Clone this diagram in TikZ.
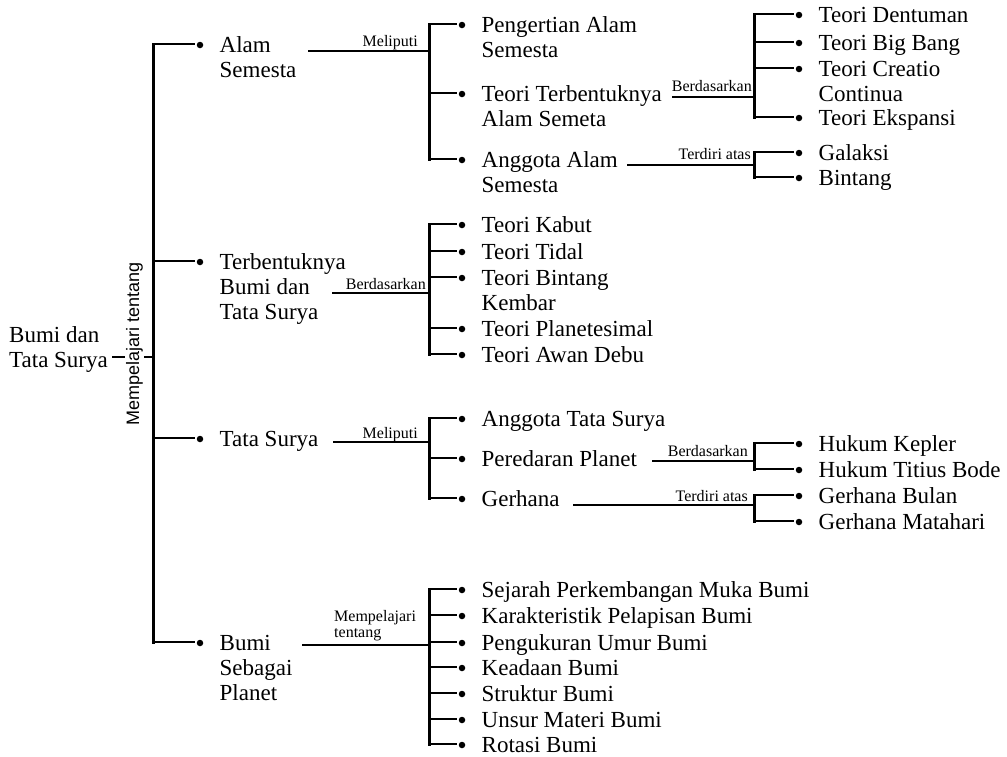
\documentclass[tikz,border=0pt]{standalone}
\usepackage{fontspec}
\setmainfont{Liberation Serif}
\newfontfamily\rotsans{Liberation Sans}
\newcommand\itemfont{\fontsize{23}{25}\selectfont}
\newcommand\labfont{\fontsize{16}{16}\selectfont}
\newcommand\mytl[1]{\begin{tabular}[t]{@{}l@{}}#1\end{tabular}}
\tikzset{
  spine/.style={line width=3pt, line cap=rect},
  conn/.style={line width=2.8pt},
  dot/.style={circle, fill=black, inner sep=0pt, minimum size=6.5pt, outer sep=2pt},
  item/.style={anchor=base west, inner sep=0pt, font=\itemfont},
  lab/.style={anchor=base east, inner sep=0pt, font=\labfont},
  rotlab/.style={rotate=90, anchor=base, fill=white, inner sep=1pt, font=\rotsans\fontsize{18}{20}\selectfont}
}
% name, spine x, bullet x, branch y, text
\newcommand\leaf[5]{%
  \coordinate (#1j) at (#2,#4);
  \node[dot] (#1b) at (#3,#4+1) {};
  \node[item] (#1t) at (#3+19.5,#4+8.5) {\mytl{#5}};
  \draw[conn] (#1j) -- (#1j -| #1b.west);
}
\begin{document}
\begin{tikzpicture}[x=1pt,y=-1pt]
\useasboundingbox (0,0) rectangle (1007,756);

% root
\node[item] (root) at (9,342) {\mytl{Bumi dan\\Tata Surya}};
\coordinate (rootend) at (112,357);
\coordinate (s0) at (153,357);
\draw[conn] (rootend) -- (s0);
\node[rotlab] (rl) at (139,343.5) {Mempelajari tentang};

% level 1
\leaf{A}{153}{200}{44}{Alam\\Semesta}
\leaf{B}{153}{200}{261}{Terbentuknya\\Bumi dan\\Tata Surya}
\leaf{C}{153}{200}{438}{Tata Surya}
\leaf{D}{153}{200}{642}{Bumi\\Sebagai\\Planet}
\draw[spine] (Aj) -- (Dj);

% Alam Semesta
\coordinate (Ac) at (308,51); \coordinate (Am) at (429,51);
\draw[conn] (Ac) -- (Am);
\node[lab] (Al) at (418,46) {Meliputi};
\leaf{Aa}{429}{462}{24}{Pengertian Alam\\Semesta}
\leaf{Ab}{429}{462}{93}{Teori Terbentuknya\\Alam Semeta}
\leaf{Ac}{429}{462}{159}{Anggota Alam\\Semesta}
\draw[spine] (Aaj) -- (Acj);

\coordinate (Abc) at (672,97); \coordinate (Abm) at (754,97);
\draw[conn] (Abc) -- (Abm);
\node[lab] (Abl) at (752,91) {Berdasarkan};
\leaf{Aba}{754}{799}{14}{Teori Dentuman}
\leaf{Abb}{754}{799}{42}{Teori Big Bang}
\leaf{Abc}{754}{799}{68}{Teori Creatio\\Continua}
\leaf{Abd}{754}{799}{117}{Teori Ekspansi}
\draw[spine] (Abaj) -- (Abdj);

\coordinate (Acc) at (627,165); \coordinate (Acm) at (754,165);
\draw[conn] (Acc) -- (Acm);
\node[lab] (Acl) at (751,159) {Terdiri atas};
\leaf{Aca}{754}{799}{152}{Galaksi}
\leaf{Acb}{754}{799}{177}{Bintang}
\draw[spine] (Acaj) -- (Acbj);

% Terbentuknya
\coordinate (Bc) at (332,293); \coordinate (Bm) at (429,293);
\draw[conn] (Bc) -- (Bm);
\node[lab] (Bl) at (426,289) {Berdasarkan};
\leaf{Ba}{429}{462}{224}{Teori Kabut}
\leaf{Bb}{429}{462}{251}{Teori Tidal}
\leaf{Bc}{429}{462}{277}{Teori Bintang\\Kembar}
\leaf{Bd}{429}{462}{328}{Teori Planetesimal}
\leaf{Be}{429}{462}{354}{Teori Awan Debu}
\draw[spine] (Baj) -- (Bej);

% Tata Surya
\coordinate (Cc) at (333,442); \coordinate (Cm) at (429,442);
\draw[conn] (Cc) -- (Cm);
\node[lab] (Cl) at (418,438) {Meliputi};
\leaf{Ca}{429}{462}{418}{Anggota Tata Surya}
\leaf{Cb}{429}{462}{458}{Peredaran Planet}
\leaf{Cc}{429}{462}{498}{Gerhana}
\draw[spine] (Caj) -- (Ccj);

\coordinate (Cbc) at (652,461); \coordinate (Cbm) at (754,461);
\draw[conn] (Cbc) -- (Cbm);
\node[lab] (Cbl) at (748,456) {Berdasarkan};
\leaf{Cba}{754}{799}{443}{Hukum Kepler}
\leaf{Cbb}{754}{799}{469}{Hukum Titius Bode}
\draw[spine] (Cbaj) -- (Cbbj);

\coordinate (Ccc) at (573,505); \coordinate (Ccm) at (754,505);
\draw[conn] (Ccc) -- (Ccm);
\node[lab] (Ccl) at (748,501) {Terdiri atas};
\leaf{Cca}{754}{799}{495}{Gerhana Bulan}
\leaf{Ccb}{754}{799}{521}{Gerhana Matahari}
\draw[spine] (Ccaj) -- (Ccbj);

% Bumi Sebagai Planet
\coordinate (Dc) at (302,645); \coordinate (Dm) at (429,645);
\draw[conn] (Dc) -- (Dm);
\node[lab, anchor=base west] (Dl) at (334,621) {\begin{tabular}[t]{@{}l@{}}Mempelajari\\tentang\end{tabular}};
\leaf{Da}{429}{462}{589}{Sejarah Perkembangan Muka Bumi}
\leaf{Db}{429}{462}{615}{Karakteristik Pelapisan Bumi}
\leaf{Dc}{429}{462}{642}{Pengukuran Umur Bumi}
\leaf{Dd}{429}{462}{667}{Keadaan Bumi}
\leaf{De}{429}{462}{693}{Struktur Bumi}
\leaf{Df}{429}{462}{719}{Unsur Materi Bumi}
\leaf{Dg}{429}{462}{744}{Rotasi Bumi}
\draw[spine] (Daj) -- (Dgj);
\end{tikzpicture}
\end{document}
